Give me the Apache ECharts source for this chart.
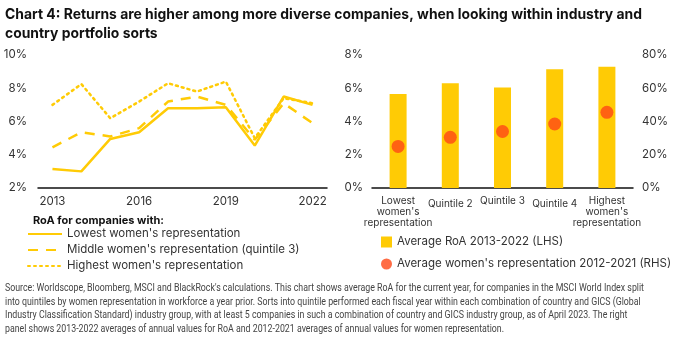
<!DOCTYPE html>
<html>
<head>
<meta charset="utf-8">
<script src="https://cdn.jsdelivr.net/npm/echarts@6/dist/echarts.min.js"></script>
<style>
  html, body { margin: 0; padding: 0; background: #fff; }
  #chart { width: 680px; height: 349px; }
</style>
</head>
<body>
<div id="chart"></div>
<script>
// Left panel: annual RoA by women's representation quintile
const years = ['2013', '2014', '2015', '2016', '2017', '2018', '2019', '2020', '2021', '2022'];
const roaLowest  = [3.15, 3.0, 4.95, 5.35, 6.8, 6.8, 6.85, 4.55, 7.5, 7.0];
const roaMiddle  = [4.45, 5.35, 5.1, 5.6, 7.2, 7.5, 7.0, 4.9, 7.1, 5.9];
const roaHighest = [7.0, 8.25, 6.2, 7.2, 8.3, 7.8, 8.4, 5.0, 7.4, 7.1];

// Right panel: averages per quintile
const quintiles = ["Lowest\nwomen's\nrepresentation", 'Quintile 2', 'Quintile 3', 'Quintile 4', "Highest\nwomen's\nrepresentation"];
const avgRoa = [5.65, 6.3, 6.05, 7.15, 7.3];
const avgWomen = [25, 30.5, 34, 38.5, 45.5];

const leftTicks = [2, 4, 6, 8, 10];
const rightTicksL = [0, 2, 4, 6, 8];
const rightTicksR = [0, 20, 40, 60, 80];

const titleLines = [
  'Chart 4: Returns are higher among more diverse companies, when looking within industry and',
  'country portfolio sorts'
];
const sourceLines = [
  "Source: Worldscope, Bloomberg, MSCI and BlackRock's calculations. This chart shows average RoA for the current year, for companies in the MSCI World Index split",
  'into quintiles by women representation in workforce a year prior. Sorts into quintile performed each fiscal year within each combination of country and GICS (Global',
  'Industry Classification Standard) industry group, with at least 5 companies in such a combination of country and GICS industry group, as of April 2023. The right',
  'panel shows 2013-2022 averages of annual values for RoA and 2012-2021 averages of annual values for women representation.'
];

const YELLOW = '#FFCB05';
const RED = '#FF4715';
const FONT = 'Inter, Roboto, "Noto Sans", sans-serif';
const TXT = '#333';

const TITLE_FONT = 'bold 14.5px Inter, Roboto, sans-serif';
const SOURCE_FONT = '10.5px Roboto, "Liberation Sans", sans-serif';

// Horizontal squeeze so the condensed-style blocks span the same width
function squeeze(text, font, targetWidth) {
  const ctx = document.createElement('canvas').getContext('2d');
  ctx.font = font;
  return targetWidth / ctx.measureText(text).width;
}
const titleScale = squeeze(titleLines[0], TITLE_FONT, 637);
const sourceScale = squeeze(sourceLines[0], SOURCE_FONT, 639);

const chart = echarts.init(document.getElementById('chart'));

const axisLabelStyle = { color: TXT, fontSize: 11.5, fontFamily: FONT };

chart.setOption({
  animation: false,
  title: [
    {
      text: 'RoA for companies with:',
      left: 28, top: 210,
      textStyle: { fontFamily: FONT, fontWeight: 'bold', fontSize: 11, color: '#111' }
    }
  ],
  graphic: [
    {
      type: 'text', x: 5, y: 5, scaleX: titleScale, silent: true,
      style: { text: titleLines.join('\n'), font: TITLE_FONT, fill: '#111', lineHeight: 19, verticalAlign: 'top' }
    },
    {
      type: 'text', x: 5, y: 282, scaleX: sourceScale, silent: true,
      style: { text: sourceLines.join('\n'), font: SOURCE_FONT, fill: '#444', lineHeight: 13.5, verticalAlign: 'top' }
    }
  ],
  legend: [
    {
      orient: 'vertical', left: 22, top: 223, itemWidth: 34, itemHeight: 10, itemGap: 4,
      itemStyle: { opacity: 0 },
      textStyle: { fontFamily: FONT, fontSize: 11.5, color: TXT },
      data: [
        { name: "Lowest women's representation" },
        { name: 'Middle women\'s representation (quintile 3)' },
        { name: "Highest women's representation" }
      ]
    },
    {
      orient: 'vertical', left: 376, top: 231, itemWidth: 11, itemHeight: 11, itemGap: 10,
      textStyle: { fontFamily: FONT, fontSize: 11.5, color: TXT },
      data: [
        { name: 'Average RoA 2013-2022 (LHS)', icon: 'rect' },
        { name: "Average women's representation 2012-2021 (RHS)", icon: 'circle' }
      ]
    }
  ],
  grid: [
    { left: 38, right: 353, top: 55, bottom: 161 },
    { left: 372, right: 47, top: 55, bottom: 161 }
  ],
  xAxis: [
    {
      type: 'category', gridIndex: 0, data: years, boundaryGap: true,
      axisLine: { lineStyle: { color: '#111', width: 1.5 } },
      axisTick: { show: false },
      axisLabel: Object.assign({ interval: 2, margin: 8 }, axisLabelStyle)
    },
    {
      type: 'category', gridIndex: 1, data: quintiles,
      axisLine: { lineStyle: { color: '#111', width: 1.5 } },
      axisTick: { show: false },
      axisLabel: {
        interval: 0, margin: 7, color: TXT, fontSize: 10, lineHeight: 11, fontFamily: FONT,
        formatter: (v, i) => (i === 1 || i === 3) ? '{d|' + v + '}' : v,
        rich: { d: { padding: [6, 0, 0, 0], fontSize: 10, color: TXT, fontFamily: FONT } }
      }
    }
  ],
  yAxis: [
    {
      type: 'value', gridIndex: 0, min: leftTicks[0], max: leftTicks[leftTicks.length - 1], interval: 2,
      splitLine: { show: false }, axisLine: { show: false }, axisTick: { show: false },
      axisLabel: Object.assign({ margin: 11, formatter: '{value}%' }, axisLabelStyle)
    },
    {
      type: 'value', gridIndex: 1, min: rightTicksL[0], max: rightTicksL[rightTicksL.length - 1], interval: 2,
      splitLine: { show: false }, axisLine: { show: false }, axisTick: { show: false },
      axisLabel: Object.assign({ margin: 9, formatter: '{value}%' }, axisLabelStyle)
    },
    {
      type: 'value', gridIndex: 1, position: 'right', min: rightTicksR[0], max: rightTicksR[rightTicksR.length - 1], interval: 20,
      splitLine: { show: false }, axisLine: { show: false }, axisTick: { show: false },
      axisLabel: Object.assign({ margin: 9, formatter: '{value}%' }, axisLabelStyle)
    }
  ],
  series: [
    {
      name: "Lowest women's representation", type: 'line', xAxisIndex: 0, yAxisIndex: 0,
      data: roaLowest, symbol: 'none', color: YELLOW,
      lineStyle: { color: YELLOW, width: 2.5, type: 'solid' }
    },
    {
      name: 'Middle women\'s representation (quintile 3)', type: 'line', xAxisIndex: 0, yAxisIndex: 0,
      data: roaMiddle, symbol: 'none', color: YELLOW,
      lineStyle: { color: YELLOW, width: 2.5, type: [10, 8] }
    },
    {
      name: "Highest women's representation", type: 'line', xAxisIndex: 0, yAxisIndex: 0,
      data: roaHighest, symbol: 'none', color: YELLOW,
      lineStyle: { color: YELLOW, width: 2.5, type: [2, 4], cap: 'round' }
    },
    {
      name: 'Average RoA 2013-2022 (LHS)', type: 'bar', xAxisIndex: 1, yAxisIndex: 1,
      data: avgRoa, barWidth: 17, itemStyle: { color: YELLOW }
    },
    {
      name: "Average women's representation 2012-2021 (RHS)", type: 'scatter', xAxisIndex: 1, yAxisIndex: 2,
      data: avgWomen, symbolSize: 13, itemStyle: { color: RED }, z: 5
    }
  ]
});
</script>
</body>
</html>
